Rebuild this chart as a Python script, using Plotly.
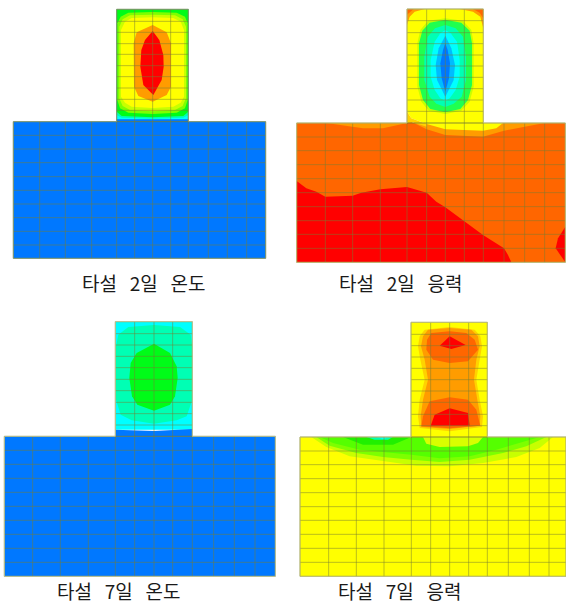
import plotly.graph_objects as go

# Colour bands of the contour scale
BLUE = "#0078ff"; AZURE = "#00bcff"; CYAN = "#00ffff"; SPRING = "#00ffb4"; GREEN = "#00fc18"
LIME = "#7dff00"; YGREEN = "#c8ff00"; YELLOW = "#ffff00"; PALE = "#ffd200"; AMBER = "#ff9c00"
DORANGE = "#ff6600"; RED = "#ff0000"

GAP = "\u00a0\u00a0\u00a0"
TITLES = ["타설" + GAP + "2일" + GAP + "온도", "타설" + GAP + "2일" + GAP + "응력",
          "타설" + GAP + "7일" + GAP + "온도", "타설" + GAP + "7일" + GAP + "응력"]
TITLE_X = [429, 351, 354, 348]
TITLE_Y = [846, 846, 862, 862]

# Mesh lines (element edges), panel-local units
A_BX = [40, 119, 196, 275, 350, 404, 458, 512, 565, 625, 682, 740, 797]
A_BY = [365, 406, 447, 488, 530, 571, 612, 653, 694, 735, 775]
A_SX = [350, 404, 458, 512, 565]
A_SY = [28, 64, 97, 131, 163, 197, 230, 264, 298, 331, 365]

B_BX = [41, 127, 209, 292, 372, 431, 487, 544, 601, 663, 725, 785, 847]
B_BY = [369, 411, 452, 494, 536, 578, 620, 662, 703, 745, 787]
B_SX = [372, 431, 487, 544, 601]
B_SY = [27, 62, 98, 131, 165, 198, 232, 266, 300, 334, 369]

C_BX = [13, 98, 181, 265, 346, 404, 462, 518, 577, 641, 703, 765, 826]
C_BY = [400, 442, 484, 526, 568, 610, 652, 694, 736, 778, 820]
C_SX = [346, 404, 462, 518, 577]
C_SY = [56, 92, 126, 160, 194, 229, 263, 298, 332, 366, 400]

D_BX = [51, 137, 220, 303, 385, 443, 500, 557, 613, 676, 739, 798, 849]
D_BY = [402, 444, 485, 527, 569, 611, 652, 694, 736, 778, 820]
D_SX = [384, 443, 500, 557, 613]
D_SY = [58, 94, 128, 162, 196, 230, 264, 298, 334, 368, 402]

# Panel A: temperature at 2 days
A_BASE = [(40, 365), (797, 365), (797, 775), (40, 775)]
A_STEM_CYAN = [(350, 300), (565, 300), (565, 360), (350, 360)]
A_STEM_BLUE = [(350, 358), (565, 358), (565, 366), (350, 366)]
A_SPRING = [(350, 28), (565, 28), (565, 345), (550, 353), (458, 356), (365, 353), (350, 345)]
A_GREEN = [(350, 28), (565, 28), (565, 335), (550, 348), (458, 352), (365, 348), (350, 335)]
A_LIME = [(352, 70), (362, 50), (385, 38), (458, 36), (530, 38), (555, 50), (563, 70), (563, 300), (555, 325), (530, 338), (458, 342), (385, 338), (360, 325), (352, 300)]
A_YGREEN = [(358, 80), (368, 58), (390, 46), (458, 44), (525, 46), (548, 58), (558, 80), (558, 295), (548, 318), (525, 330), (458, 334), (390, 330), (368, 318), (358, 295)]
A_YELLOW = [(363, 90), (375, 65), (395, 54), (458, 52), (520, 54), (542, 65), (552, 90), (552, 290), (542, 308), (520, 320), (458, 324), (395, 320), (375, 308), (363, 290)]
A_AMBER = [(458, 75), (500, 97), (513, 130), (513, 260), (500, 285), (458, 305), (415, 288), (402, 260), (401, 130), (410, 97)]
A_RED = [(458, 93), (478, 120), (490, 165), (491, 200), (485, 240), (460, 285), (430, 255), (421, 200), (424, 150), (435, 120)]

# Panel B: stress at 2 days
B_BASE = [(41, 369), (847, 369), (847, 787), (41, 787)]
B_RED1 = [(41, 543), (70, 565), (100, 575), (127, 590), (209, 587), (235, 578), (292, 568), (372, 561), (431, 578), (460, 605), (487, 622), (544, 665), (600, 705), (663, 745), (675, 765), (685, 787), (41, 787)]
B_RED2 = [(847, 680), (825, 715), (818, 745), (835, 770), (847, 787)]
B_AMBER1 = [(130, 369), (240, 385), (300, 385), (340, 375), (372, 369)]
B_AMBER2 = [(372, 335), (385, 365), (431, 388), (487, 405), (600, 410), (663, 392), (725, 380), (785, 369), (372, 369)]
B_YELLOW = [(372, 27), (601, 27), (601, 369), (660, 369), (640, 385), (600, 392), (487, 388), (431, 372), (385, 355), (372, 335)]
B_PALE = [(372, 335), (385, 355), (431, 372), (431, 380), (385, 366), (372, 369)]
B_TR1 = [(530, 27), (601, 27), (601, 85), (592, 50), (570, 35)]
B_TR2 = [(570, 27), (601, 27), (601, 55), (590, 38)]
B_TL1 = [(372, 27), (425, 27), (395, 35), (380, 50), (372, 75)]
B_TL2 = [(372, 27), (392, 27), (372, 44)]
B_YGREEN = [(403, 130), (412, 90), (435, 62), (487, 55), (540, 62), (565, 90), (572, 130), (572, 260), (560, 305), (535, 332), (487, 342), (437, 332), (415, 305), (403, 260)]
B_GREEN = [(408, 130), (418, 92), (440, 68), (487, 59), (535, 68), (560, 92), (567, 130), (567, 255), (555, 300), (532, 327), (487, 337), (442, 327), (420, 300), (408, 255)]
B_SPRING = [(424, 170), (434, 110), (456, 85), (487, 75), (518, 85), (540, 110), (549, 170), (549, 240), (536, 290), (512, 311), (487, 321), (460, 311), (440, 290), (424, 240)]
B_CYAN = [(443, 180), (455, 125), (472, 100), (487, 90), (503, 100), (522, 125), (530, 180), (530, 230), (518, 270), (500, 295), (487, 302), (472, 295), (455, 270), (443, 230)]
B_AZURE = [(458, 195), (467, 145), (487, 107), (505, 145), (516, 195), (512, 240), (487, 290), (462, 240)]
B_BLUE = [(472, 190), (480, 150), (487, 130), (494, 150), (501, 190), (498, 235), (487, 275), (476, 235)]

# Panel C: temperature at 7 days
C_BASE = [(13, 400), (826, 400), (826, 820), (13, 820)]
C_STEM_CYAN = [(346, 56), (577, 56), (577, 380), (346, 380)]
C_STEM_BLUE = [(346, 380), (462, 384), (577, 378), (577, 401), (346, 401)]
C_SPRING = [(348, 130), (355, 95), (385, 72), (462, 66), (540, 72), (572, 95), (577, 130), (577, 290), (560, 340), (530, 352), (462, 362), (395, 352), (362, 335), (348, 290)]
C_GREEN = [(462, 122), (510, 150), (530, 190), (533, 225), (525, 280), (510, 305), (462, 323), (412, 305), (396, 280), (388, 225), (392, 180), (410, 150)]

# Panel D: stress at 7 days
D_BASE = [(51, 402), (849, 402), (849, 820), (51, 820)]
D_STEM = [(384, 58), (613, 58), (613, 403), (384, 403)]
D_YGREEN = [(85, 402), (130, 432), (200, 460), (300, 475), (400, 488), (500, 490), (600, 480), (700, 462), (770, 435), (810, 402)]
D_LIME = [(100, 402), (140, 428), (220, 450), (300, 462), (385, 470), (470, 477), (560, 470), (660, 450), (730, 430), (790, 402)]
D_GREEN = [(110, 402), (150, 420), (230, 440), (385, 455), (470, 466), (560, 460), (640, 440), (710, 420), (770, 402)]
D_STRONG = [(180, 402), (240, 425), (330, 425), (385, 402)]
D_SPRING = [(250, 402), (275, 410), (315, 410), (330, 402)]
D_CYAN = [(280, 402), (300, 408), (320, 402)]
D_PATCH = [(420, 402), (430, 422), (470, 432), (555, 430), (585, 420), (600, 402)]
D_PALE = [(410, 100), (425, 80), (500, 72), (575, 80), (592, 100), (597, 130), (590, 170), (580, 230), (590, 290), (600, 340), (597, 372), (500, 385), (410, 375), (405, 340), (410, 290), (425, 230), (412, 170), (405, 130)]
D_AMBER = [(420, 100), (435, 80), (500, 75), (565, 80), (585, 100), (590, 130), (580, 170), (573, 230), (583, 290), (592, 340), (590, 368), (500, 378), (415, 372), (413, 340), (420, 290), (435, 230), (425, 170), (414, 130)]
D_DARK1 = [(432, 110), (445, 90), (500, 85), (550, 90), (575, 110), (585, 140), (555, 175), (500, 180), (450, 170), (430, 140)]
D_DARK2 = [(440, 295), (500, 283), (555, 290), (580, 320), (592, 368), (500, 376), (415, 370), (420, 340)]
D_RED1 = [(500, 100), (548, 126), (505, 138), (470, 128)]
D_RED2 = [(500, 316), (555, 330), (560, 368), (443, 368), (455, 335)]

PANELS = [
    dict(grid=(A_BX, A_BY, A_SX, A_SY), line="rgba(125,150,110,0.9)", layers=[
        (A_BASE, BLUE), (A_STEM_CYAN, CYAN), (A_STEM_BLUE, BLUE), (A_SPRING, SPRING), (A_GREEN, GREEN),
        (A_LIME, LIME), (A_YGREEN, YGREEN), (A_YELLOW, YELLOW), (A_AMBER, AMBER), (A_RED, RED)]),
    dict(grid=(B_BX, B_BY, B_SX, B_SY), line="rgba(190,190,120,0.95)", layers=[
        (B_BASE, DORANGE), (B_RED1, RED), (B_RED2, RED), (B_AMBER1, AMBER), (B_AMBER2, AMBER), (B_YELLOW, YELLOW),
        (B_PALE, PALE), (B_TR1, AMBER), (B_TR2, DORANGE), (B_TL1, AMBER), (B_TL2, DORANGE), (B_YGREEN, YGREEN),
        (B_GREEN, "#20ff50"), (B_SPRING, SPRING), (B_CYAN, CYAN), (B_AZURE, AZURE), (B_BLUE, BLUE)]),
    dict(grid=(C_BX, C_BY, C_SX, C_SY), line="rgba(190,195,140,0.95)", layers=[
        (C_BASE, BLUE), (C_STEM_CYAN, CYAN), (C_STEM_BLUE, BLUE), (C_SPRING, SPRING), (C_GREEN, GREEN)]),
    dict(grid=(D_BX, D_BY, D_SX, D_SY), line="rgba(190,190,120,0.95)", layers=[
        (D_BASE, YELLOW), (D_YGREEN, YGREEN), (D_LIME, LIME), (D_GREEN, "#55ff00"), (D_STRONG, "#20f000"),
        (D_SPRING, SPRING), (D_CYAN, CYAN), (D_PATCH, "#d8ff00"), (D_STEM, YELLOW), (D_PALE, PALE), (D_AMBER, AMBER),
        (D_DARK1, DORANGE), (D_DARK2, DORANGE), (D_RED1, RED), (D_RED2, RED)]),
]

MESH = "rgba(120,125,50,0.5)"
DOMAINS_X = [[0, 0.5], [0.5, 1], [0, 0.5], [0.5, 1]]
DOMAINS_Y = [[303 / 603, 1], [303 / 603, 1], [0, 300 / 603], [0, 300 / 603]]

fig = go.Figure()


def mesh_lines(bx, by, sx, sy):
    xs, ys = [], []
    for x in bx:
        xs += [x, x, None]; ys += [by[0], by[-1], None]
    for y in by:
        xs += [bx[0], bx[-1], None]; ys += [y, y, None]
    for x in sx:
        xs += [x, x, None]; ys += [sy[0], sy[-1], None]
    for y in sy:
        xs += [sx[0], sx[-1], None]; ys += [y, y, None]
    return xs, ys


for i, panel in enumerate(PANELS):
    suffix = "" if i == 0 else str(i + 1)
    xa, ya = "x" + suffix, "y" + suffix
    for poly, color in panel["layers"]:
        xs = [p[0] for p in poly] + [poly[0][0]]
        ys = [p[1] for p in poly] + [poly[0][1]]
        fig.add_trace(go.Scatter(x=xs, y=ys, mode="lines", fill="toself", fillcolor=color,
                                 line=dict(width=0, color=color), xaxis=xa, yaxis=ya, hoverinfo="skip", showlegend=False))
    bx, by, sx, sy = panel["grid"]
    mx, my = mesh_lines(bx, by, sx, sy)
    fig.add_trace(go.Scatter(x=mx, y=my, mode="lines", line=dict(width=1, color=MESH), xaxis=xa, yaxis=ya,
                             hoverinfo="skip", showlegend=False))
    ox = [sx[0], sx[0], sx[-1], sx[-1], bx[-1], bx[-1], bx[0], bx[0], sx[0]]
    oy = [by[0], sy[0], sy[0], by[0], by[0], by[-1], by[-1], by[0], by[0]]
    fig.add_trace(go.Scatter(x=ox, y=oy, mode="lines", line=dict(width=1, color=panel["line"]), xaxis=xa, yaxis=ya,
                             hoverinfo="skip", showlegend=False))
    fig.add_annotation(x=TITLE_X[i], y=TITLE_Y[i], xref=xa, yref=ya, text=TITLES[i], showarrow=False,
                       font=dict(family="Noto Sans CJK KR", size=19, color="#1a1a1a"))
    axis_x = dict(domain=DOMAINS_X[i], range=[0, 849], visible=False, fixedrange=True)
    axis_y = dict(domain=DOMAINS_Y[i], range=[900, 0], visible=False, fixedrange=True)
    fig.update_layout({"xaxis" + suffix: axis_x, "yaxis" + suffix: axis_y})

fig.update_layout(width=566, height=603, margin=dict(l=0, r=0, t=0, b=0), paper_bgcolor="white",
                  plot_bgcolor="white", showlegend=False)
fig.write_html("out.html", config=dict(displayModeBar=False),
               post_script="document.body.style.margin='0';")
